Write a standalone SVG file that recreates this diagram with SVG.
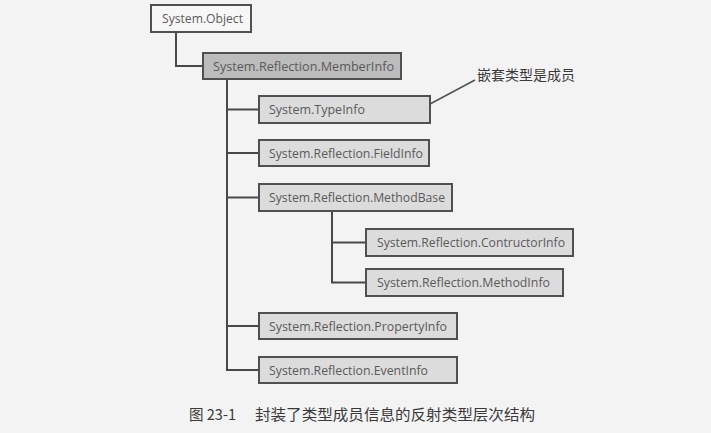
<svg xmlns="http://www.w3.org/2000/svg" width="711" height="433" viewBox="0 0 711 433">
<style>
.box{stroke:#505050;stroke-width:2}
.light{fill:#dcdcdc}
.dark{fill:#bcbcbc}
.white{fill:#f7f7f7}
.lbl{font-family:"Open Sans","Noto Sans","Liberation Sans",sans-serif;font-size:12px;fill:#5a5a5a}
.conn{fill:none;stroke:#484848;stroke-width:2}
.cjk{font-family:"Noto Sans CJK SC","Noto Sans",sans-serif;fill:#3a3a3a}
</style>
<rect x="0" y="0" width="711" height="433" fill="#f3f3f3"/>
<g id="connectors">
<path class="conn" d="M176 32 V66 H203"/>
<path class="conn" d="M227 79 V370 H259 M227 109.5 H259 M227 153 H259 M227 197.5 H259 M227 326 H259"/>
<path class="conn" d="M332 211 V282.5 H366 M332 242.5 H366"/>
<path d="M430 104 L475 80" fill="none" stroke="#505050" stroke-width="1.5"/>
</g>
<g id="n-object"><rect class="box white" x="151" y="5" width="100" height="27"/><text class="lbl" x="162" y="23" textLength="81" lengthAdjust="spacingAndGlyphs">System.Object</text></g>
<g id="n-memberinfo"><rect class="box dark" x="203" y="53" width="198" height="26"/><text class="lbl" x="213" y="70.5" textLength="181" lengthAdjust="spacingAndGlyphs">System.Reflection.MemberInfo</text></g>
<g id="n-typeinfo"><rect class="box light" x="259" y="96" width="171" height="27"/><text class="lbl" x="269" y="114" textLength="96" lengthAdjust="spacingAndGlyphs">System.TypeInfo</text></g>
<g id="n-fieldinfo"><rect class="box light" x="259" y="140" width="170" height="26"/><text class="lbl" x="269" y="157.5" textLength="154" lengthAdjust="spacingAndGlyphs">System.Reflection.FieldInfo</text></g>
<g id="n-methodbase"><rect class="box light" x="259" y="184" width="193" height="27"/><text class="lbl" x="269" y="202" textLength="176" lengthAdjust="spacingAndGlyphs">System.Reflection.MethodBase</text></g>
<g id="n-contructorinfo"><rect class="box light" x="366" y="229" width="207" height="27"/><text class="lbl" x="377" y="247" textLength="188" lengthAdjust="spacingAndGlyphs">System.Reflection.ContructorInfo</text></g>
<g id="n-methodinfo"><rect class="box light" x="366" y="269" width="197" height="27"/><text class="lbl" x="377" y="287" textLength="173" lengthAdjust="spacingAndGlyphs">System.Reflection.MethodInfo</text></g>
<g id="n-propertyinfo"><rect class="box light" x="259" y="313" width="198" height="26"/><text class="lbl" x="269" y="330.5" textLength="178" lengthAdjust="spacingAndGlyphs">System.Reflection.PropertyInfo</text></g>
<g id="n-eventinfo"><rect class="box light" x="259" y="357" width="198" height="26"/><text class="lbl" x="269" y="374.5" textLength="159" lengthAdjust="spacingAndGlyphs">System.Reflection.EventInfo</text></g>
<text class="cjk" x="477" y="80" font-size="14" textLength="98" lengthAdjust="spacingAndGlyphs">嵌套类型是成员</text>
<g id="caption">
<text class="cjk" x="189" y="420" font-size="15" textLength="47" lengthAdjust="spacingAndGlyphs">图 23-1</text>
<text class="cjk" x="255" y="420" font-size="15" textLength="280" lengthAdjust="spacingAndGlyphs">封装了类型成员信息的反射类型层次结构</text>
</g>
</svg>
